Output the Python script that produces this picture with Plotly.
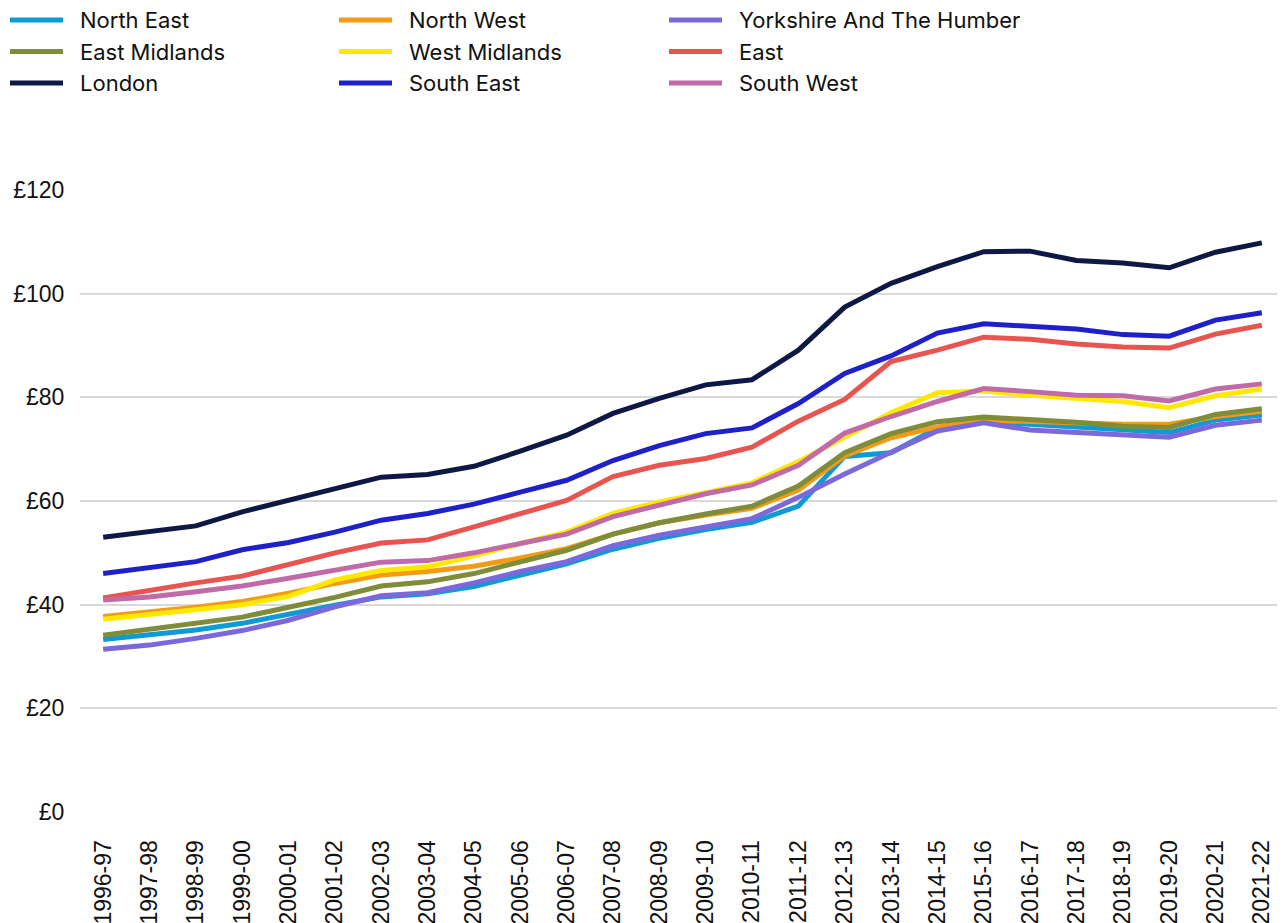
import plotly.graph_objects as go

years = ["1996-97", "1997-98", "1998-99", "1999-00", "2000-01", "2001-02", "2002-03",
         "2003-04", "2004-05", "2005-06", "2006-07", "2007-08", "2008-09", "2009-10",
         "2010-11", "2011-12", "2012-13", "2013-14", "2014-15", "2015-16", "2016-17",
         "2017-18", "2018-19", "2019-20", "2020-21", "2021-22"]

north_east = [33.3, 34.1, 35.1, 36.4, 38.2, 39.9, 41.5, 42.1, 43.5, 45.6, 47.9, 50.7, 52.8,
              54.5, 55.9, 59.0, 68.6, 69.3, 74.1, 75.3, 74.8, 74.3, 73.8, 73.2, 75.6, 76.6]
north_west = [37.7, 38.5, 39.5, 40.6, 42.2, 44.1, 45.7, 46.4, 47.4, 49.0, 50.8, 53.6, 55.8,
              57.3, 58.6, 62.1, 68.7, 72.2, 74.3, 75.6, 75.3, 75.0, 74.8, 74.8, 76.3, 77.3]
yorkshire = [31.4, 32.2, 33.5, 35.0, 37.0, 39.6, 41.7, 42.3, 44.2, 46.4, 48.3, 51.4, 53.4,
             55.0, 56.6, 60.7, 65.2, 69.4, 73.5, 75.1, 73.7, 73.2, 72.8, 72.3, 74.6, 75.6]
east_midlands = [34.1, 35.3, 36.3, 37.6, 39.5, 41.4, 43.6, 44.4, 46.0, 48.3, 50.5, 53.6, 55.8,
                 57.5, 59.0, 62.9, 69.3, 73.0, 75.3, 76.2, 75.8, 75.2, 74.4, 74.2, 76.7, 77.8]
west_midlands = [37.2, 38.0, 39.0, 40.0, 41.6, 44.8, 46.6, 47.3, 49.4, 51.8, 54.0, 57.6, 59.8,
                 61.6, 63.5, 67.6, 72.4, 77.0, 80.9, 81.2, 80.4, 79.7, 79.2, 78.0, 80.3, 81.6]
east = [41.3, 42.8, 44.2, 45.5, 47.8, 50.0, 51.9, 52.5, 55.0, 57.6, 60.1, 64.7, 66.9,
        68.2, 70.4, 75.4, 79.6, 86.9, 89.1, 91.6, 91.2, 90.3, 89.7, 89.5, 92.2, 93.9]
london = [53.0, 54.2, 55.2, 57.9, 60.1, 62.3, 64.6, 65.1, 66.7, 69.6, 72.7, 76.9, 79.8,
          82.4, 83.4, 89.1, 97.4, 102.0, 105.2, 108.1, 108.2, 106.4, 105.9, 105.0, 108.0, 109.8]
south_east = [46.0, 47.1, 48.3, 50.6, 52.0, 54.0, 56.3, 57.6, 59.4, 61.7, 64.0, 67.8, 70.7,
              73.0, 74.1, 78.8, 84.6, 88.0, 92.4, 94.2, 93.8, 93.2, 92.1, 91.8, 94.9, 96.3]
south_west = [40.9, 41.5, 42.5, 43.6, 45.1, 46.6, 48.2, 48.5, 50.0, 51.8, 53.6, 57.0, 59.2,
              61.4, 63.1, 66.9, 73.1, 76.3, 79.2, 81.7, 81.1, 80.4, 80.3, 79.3, 81.6, 82.6]

series = [
    ("North East", north_east, "#0e9ad4"),
    ("North West", north_west, "#f39a17"),
    ("Yorkshire And The Humber", yorkshire, "#7c68db"),
    ("East Midlands", east_midlands, "#7f8c39"),
    ("West Midlands", west_midlands, "#ffe800"),
    ("East", east, "#e8544f"),
    ("London", london, "#0e1845"),
    ("South East", south_east, "#1f21c8"),
    ("South West", south_west, "#c06aa8"),
]

y_ticks = [0, 20, 40, 60, 80, 100, 120]

# page body has an 8px margin, so the figure is a bit smaller than the window
W, H = 1277, 915
ML, MR, MT, MB = 72, 0, 182, 111
PW, PH = W - ML - MR, H - MT - MB


def px_x(x):
    return (x - ML) / PW


def px_y(y):
    return 1 + (MT - y) / PH


fig = go.Figure()
for name, values, color in series:
    fig.add_trace(go.Scatter(x=years, y=values, name=name, mode="lines",
                             line=dict(color=color, width=5), showlegend=False))

# legend drawn by hand: 3 columns, 3 rows, long line keys
col_x = [0, 329, 659]
row_y = [12, 43.5, 75]
for i, (name, _, color) in enumerate(series):
    lx, ly = col_x[i % 3], row_y[i // 3]
    fig.add_shape(type="line", xref="paper", yref="paper",
                  x0=px_x(lx + 2), x1=px_x(lx + 55), y0=px_y(ly), y1=px_y(ly),
                  line=dict(color=color, width=5))
    fig.add_annotation(text=name, xref="paper", yref="paper", x=px_x(lx + 70), y=px_y(ly),
                       xanchor="left", yanchor="middle", showarrow=False,
                       font=dict(family="Inter, Noto Sans, sans-serif", size=22, color="#111111"))

fig.update_layout(
    width=W, height=H,
    margin=dict(l=ML, r=MR, t=MT, b=MB),
    paper_bgcolor="white", plot_bgcolor="white",
    font=dict(family="Liberation Sans, Arial, sans-serif", size=23, color="#111111"),
    showlegend=False,
)
fig.update_xaxes(type="category", range=[-0.5, 25.5], tickangle=-90, showgrid=False,
                 ticks="outside", ticklen=18, tickcolor="rgba(0,0,0,0)",
                 automargin=False, showline=False)
fig.update_yaxes(range=[0, 120], tickvals=y_ticks, ticktext=[f"£{v}" for v in y_ticks],
                 showgrid=True, gridcolor="#d9d9d9", gridwidth=2, zeroline=False,
                 ticks="outside", ticklen=10, tickcolor="rgba(0,0,0,0)", automargin=False)

fig.write_html("out.html")
